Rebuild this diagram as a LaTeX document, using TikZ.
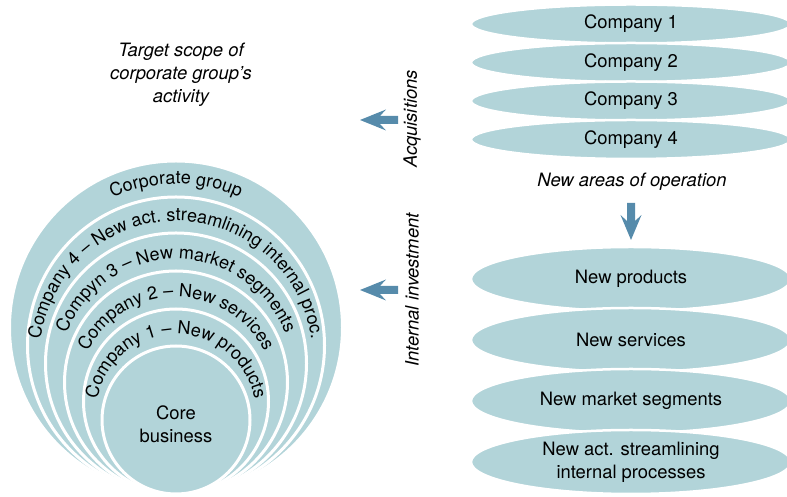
\documentclass[tikz,border=0pt]{standalone}
\usepackage{fontspec}
\setmainfont{TeX Gyre Heros}
\usetikzlibrary{decorations.text}
\definecolor{tealfill}{RGB}{178,212,217}
\definecolor{arrowblue}{RGB}{86,139,171}
\newcommand\mytextfont{\fontsize{18.4}{23}\selectfont}
\newcommand\myringfont{\fontsize{18}{23}\selectfont}
\begin{document}
\begin{tikzpicture}[x=1pt,y=1pt,
  ringdisc/.style={fill=tealfill,draw=white,line width=3pt},
  oval/.style={fill=tealfill,draw=white,line width=2.5pt},
  lbl/.style={font=\mytextfont,inner sep=0pt,align=center,text=black},
  itlbl/.style={font=\mytextfont\itshape,inner sep=0pt,align=center,text=black},
  blockarrow/.style={fill=arrowblue}]
\useasboundingbox (0,0) rectangle (787,497);
\clip (0,0) rectangle (787,497);
% nested circles, all touching at the bottom
\foreach \r in {166.5,148.5,130.5,111.5,92.5,74}{
  \path[ringdisc] (176,{3+\r}) circle (\r);
}
\node[lbl] (core) at (176,73) {Core\\business};
% ring texts
\foreach \rb/\txt in {155/{Corporate group},
  136.5/{Company 4 – New act. streamlining internal proc.},
  117.5/{Compyn 3 – New market segments},
  98.5/{Company 2 – New services},
  80/{Company 1 – New products}}{
  \path[decorate,decoration={text along path,text align=center,
     text={|\myringfont|\txt}}]
    ([shift={(200:\rb)}]176,{3+\rb}) arc[start angle=200,end angle=-20,radius=\rb];
}
% title
\node[itlbl] (scope) at (181,422) {Target scope of\\corporate group’s\\activity};
% arrows
\path[blockarrow] (360,377) -- (386,387.5) -- (380,381) -- (398,381) -- (398,373) -- (380,373) -- (386,366.5) -- cycle;
\path[blockarrow] (360,207) -- (386,217.5) -- (380,211) -- (398,211) -- (398,203) -- (380,203) -- (386,196.5) -- cycle;
\path[blockarrow] (631,257) -- (620.5,282) -- (627,276) -- (627,294) -- (635,294) -- (635,276) -- (641.5,282) -- cycle;
\node[itlbl,rotate=90] (acq) at (412,378) {Acquisitions};
\node[itlbl,rotate=90] (inv) at (412,207) {Internal investment};
% companies
\foreach \y/\n/\t in {473/co1/{Company 1},434.5/co2/{Company 2},396/co3/{Company 3},357.5/co4/{Company 4}}{
  \path[oval] (631,\y) ellipse [x radius=160,y radius=19.5];
  \node[lbl] (\n) at (631,\y) {\t};
}
\node[itlbl] (areas) at (632,315) {New areas of operation};
% new areas
\foreach \y/\n/\t in {218/na1/{New products},157/na2/{New services},96/na3/{New market segments},35/na4/{New act. streamlining\\internal processes}}{
  \path[oval] (631,\y) ellipse [x radius=160,y radius=32];
  \node[lbl] (\n) at (631,\y) {\t};
}
\end{tikzpicture}
\end{document}
